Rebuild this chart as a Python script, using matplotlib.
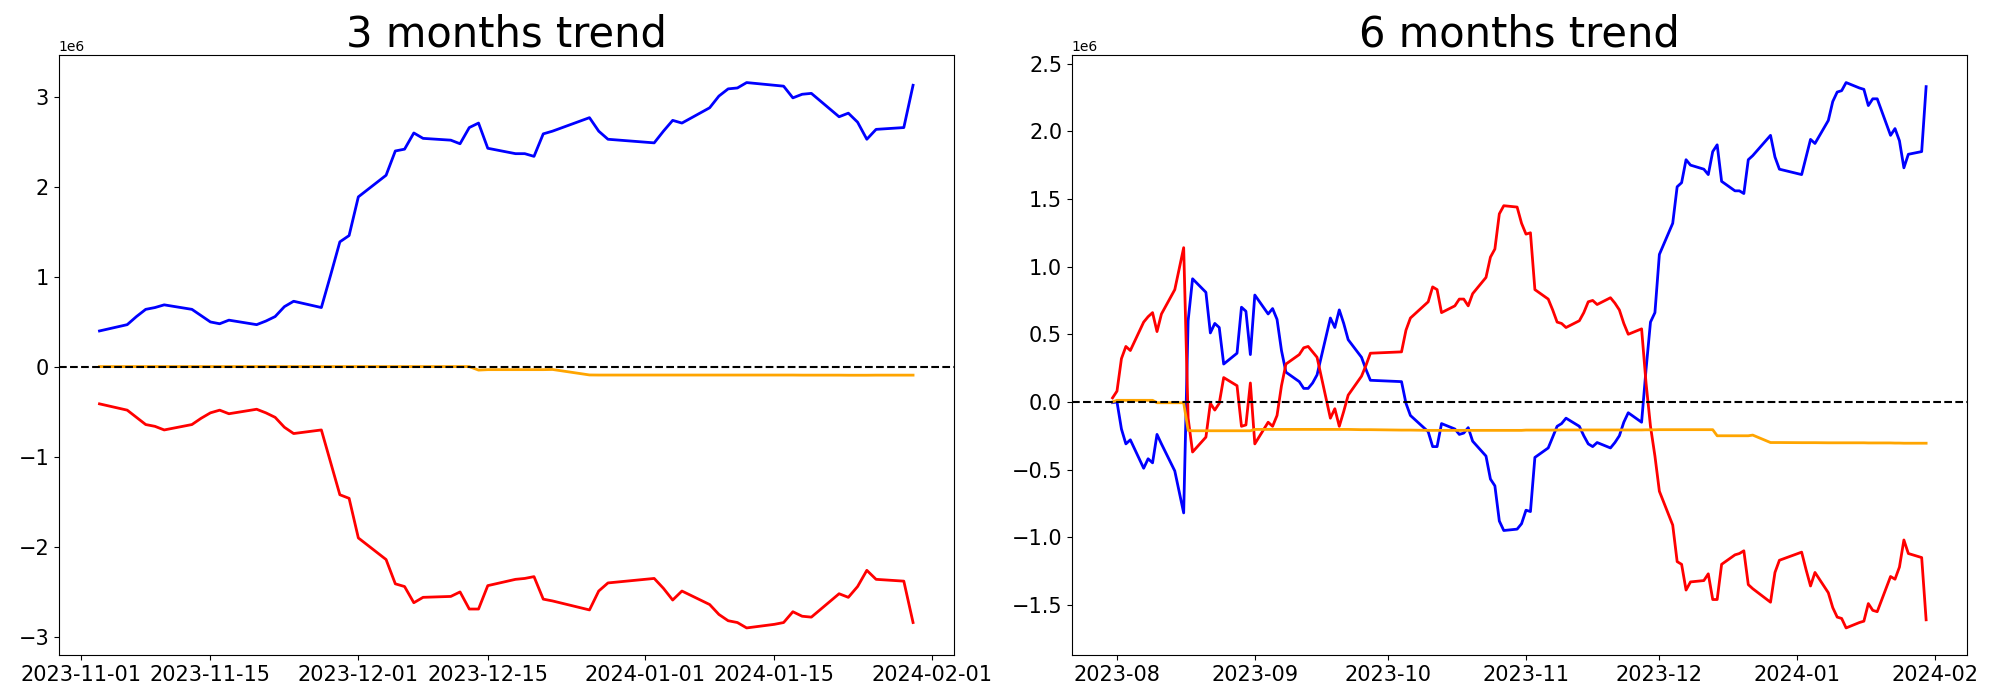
"""
3 and 6 month cumulative trend charts.
"""

import matplotlib
matplotlib.use("Agg")
import matplotlib.pyplot as plt
import numpy as np
import pandas as pd

# KRX market closures inside the window
holidays = ["2023-08-15", "2023-09-28", "2023-09-29", "2023-10-02", "2023-10-03",
            "2023-10-09", "2023-12-25", "2023-12-29", "2024-01-01"]

dates_3m = pd.bdate_range("2023-11-03", "2024-01-30", freq="C", holidays=holidays)
dates_6m = pd.bdate_range("2023-07-31", "2024-01-30", freq="C", holidays=holidays)

# 3 months (values in millions)
blue_3m = [
    0.40, 0.47, 0.56, 0.64, 0.66, 0.69, 0.64, 0.57, 0.50, 0.48,
    0.52, 0.47, 0.51, 0.56, 0.67, 0.73, 0.66, 1.02, 1.39, 1.46,
    1.89, 2.13, 2.40, 2.42, 2.60, 2.54, 2.52, 2.48, 2.66, 2.71,
    2.43, 2.37, 2.37, 2.34, 2.59, 2.62, 2.77, 2.62, 2.53,
    2.49, 2.62, 2.74, 2.71, 2.88, 3.01, 3.09, 3.10, 3.16, 3.13,
    3.12, 2.99, 3.03, 3.04, 2.78, 2.82, 2.72, 2.53, 2.64, 2.66, 3.13,
]
red_3m = [
    -0.41, -0.48, -0.56, -0.64, -0.66, -0.70, -0.64, -0.57, -0.51, -0.48,
    -0.52, -0.47, -0.51, -0.56, -0.67, -0.74, -0.70, -1.06, -1.42, -1.46,
    -1.90, -2.14, -2.41, -2.44, -2.62, -2.56, -2.55, -2.50, -2.69, -2.69,
    -2.43, -2.36, -2.35, -2.33, -2.58, -2.60, -2.70, -2.49, -2.40,
    -2.35, -2.46, -2.59, -2.49, -2.64, -2.75, -2.82, -2.84, -2.90, -2.86,
    -2.84, -2.72, -2.77, -2.78, -2.52, -2.56, -2.44, -2.26, -2.36, -2.38, -2.84,
]
orange_3m = [
    0.004, 0.004, 0.004, 0.004, 0.004, 0.004, 0.004, 0.004, 0.004, 0.004,
    0.004, 0.004, 0.004, 0.004, 0.004, 0.004, 0.004, 0.004, 0.004, 0.004,
    0.004, 0.004, 0.004, 0.004, 0.004, 0.004, 0.004, 0.004, 0.004, -0.035,
    -0.030, -0.030, -0.030, -0.030, -0.030, -0.028, -0.089, -0.090, -0.090,
    -0.090, -0.090, -0.090, -0.090, -0.090, -0.090, -0.090, -0.090, -0.090, -0.090,
    -0.090, -0.090, -0.091, -0.091, -0.091, -0.092, -0.092, -0.092, -0.091, -0.091, -0.091,
]

# 6 months (values in millions)
blue_6m = [
    -0.005,
    0.00, -0.20, -0.31, -0.28, -0.49, -0.42, -0.45, -0.24, -0.31, -0.51,
    -0.82, 0.60, 0.91, 0.81, 0.51, 0.58, 0.55, 0.28, 0.36, 0.70, 0.67, 0.35,
    0.79, 0.65, 0.69, 0.61, 0.38, 0.22, 0.15, 0.10, 0.10, 0.14,
    0.20, 0.62, 0.55, 0.68, 0.58, 0.46, 0.33, 0.24, 0.16,
    0.15, -0.01, -0.10, -0.22, -0.33, -0.33, -0.16, -0.20, -0.24, -0.23,
    -0.19, -0.29, -0.40, -0.57, -0.62, -0.88, -0.95, -0.94, -0.90,
    -0.80, -0.81, -0.41, -0.34, -0.26, -0.18, -0.16, -0.12, -0.18, -0.25, -0.31,
    -0.33, -0.30, -0.34, -0.30, -0.25, -0.15, -0.08, -0.15, 0.24, 0.59, 0.66,
    1.09, 1.32, 1.59, 1.62, 1.79, 1.75, 1.72, 1.68, 1.85, 1.90,
    1.63, 1.56, 1.56, 1.54, 1.79, 1.82, 1.97, 1.81, 1.72,
    1.68, 1.81, 1.94, 1.91, 2.08, 2.22, 2.29, 2.30, 2.36, 2.32, 2.31,
    2.19, 2.24, 2.24, 1.97, 2.02, 1.93, 1.73, 1.83, 1.85, 2.33,
]
red_6m = [
    0.03,
    0.08, 0.32, 0.41, 0.38, 0.59, 0.63, 0.66, 0.52, 0.65, 0.83,
    1.14, -0.12, -0.37, -0.26, -0.01, -0.06, -0.01, 0.18, 0.12, -0.18, -0.17, 0.14,
    -0.31, -0.15, -0.18, -0.10, 0.12, 0.28, 0.35, 0.40, 0.41, 0.37,
    0.33, -0.12, -0.05, -0.18, -0.07, 0.05, 0.19, 0.27, 0.36,
    0.37, 0.53, 0.62, 0.74, 0.85, 0.83, 0.66, 0.71, 0.76, 0.76,
    0.71, 0.80, 0.92, 1.07, 1.13, 1.39, 1.45, 1.44, 1.32,
    1.24, 1.25, 0.83, 0.76, 0.68, 0.59, 0.58, 0.55, 0.60, 0.66, 0.74,
    0.75, 0.72, 0.77, 0.73, 0.68, 0.58, 0.50, 0.54, 0.14, -0.18, -0.40,
    -0.66, -0.91, -1.18, -1.20, -1.39, -1.33, -1.32, -1.27, -1.46, -1.46,
    -1.20, -1.13, -1.12, -1.10, -1.35, -1.38, -1.48, -1.26, -1.17,
    -1.11, -1.24, -1.36, -1.26, -1.41, -1.52, -1.59, -1.60, -1.67, -1.63, -1.62,
    -1.49, -1.54, -1.55, -1.29, -1.31, -1.22, -1.02, -1.12, -1.15, -1.61,
]
orange_6m = [
    0.000,
    0.012, 0.012, 0.012, 0.012, 0.012, 0.012, 0.012, -0.006, -0.006, -0.006,
    -0.006, -0.210, -0.213, -0.213, -0.213, -0.213, -0.213, -0.213, -0.213, -0.213, -0.213, -0.213,
    -0.203, -0.203, -0.203, -0.203, -0.203, -0.203, -0.203, -0.203, -0.203, -0.203,
    -0.203, -0.203, -0.203, -0.203, -0.203, -0.203, -0.205, -0.205, -0.205,
    -0.208, -0.208, -0.208, -0.210, -0.210, -0.210, -0.210, -0.210, -0.210, -0.210,
    -0.210, -0.210, -0.210, -0.210, -0.210, -0.210, -0.210, -0.210, -0.210,
    -0.208, -0.208, -0.208, -0.208, -0.208, -0.208, -0.207, -0.207, -0.207, -0.207, -0.207,
    -0.207, -0.207, -0.207, -0.207, -0.207, -0.207, -0.207, -0.207, -0.206, -0.206, -0.206,
    -0.205, -0.205, -0.205, -0.205, -0.205, -0.205, -0.205, -0.205, -0.205, -0.250,
    -0.250, -0.250, -0.250, -0.250, -0.250, -0.245, -0.300, -0.300, -0.300,
    -0.301, -0.301, -0.301, -0.301, -0.302, -0.302, -0.302, -0.302, -0.302, -0.302, -0.302,
    -0.303, -0.303, -0.303, -0.303, -0.304, -0.304, -0.305, -0.305, -0.305, -0.305,
]


def plot_trend(ax, dates, blue, red, orange, title):
    ax.plot(dates, np.array(blue) * 1e6, color="blue", linewidth=2)
    ax.plot(dates, np.array(red) * 1e6, color="red", linewidth=2)
    ax.plot(dates, np.array(orange) * 1e6, color="orange", linewidth=2)
    ax.axhline(0, color="black", linestyle="--", linewidth=1.5)
    ax.set_title(title, fontsize=30)
    ax.tick_params(labelsize=15)


fig, (ax1, ax2) = plt.subplots(1, 2, figsize=(20, 7), dpi=100)
plot_trend(ax1, dates_3m, blue_3m, red_3m, orange_3m, "3 months trend")
plot_trend(ax2, dates_6m, blue_6m, red_6m, orange_6m, "6 months trend")

fig.subplots_adjust(left=0.0294, right=0.9834, bottom=0.064, top=0.921, wspace=0.132)
fig.savefig("out.png", dpi=100)
